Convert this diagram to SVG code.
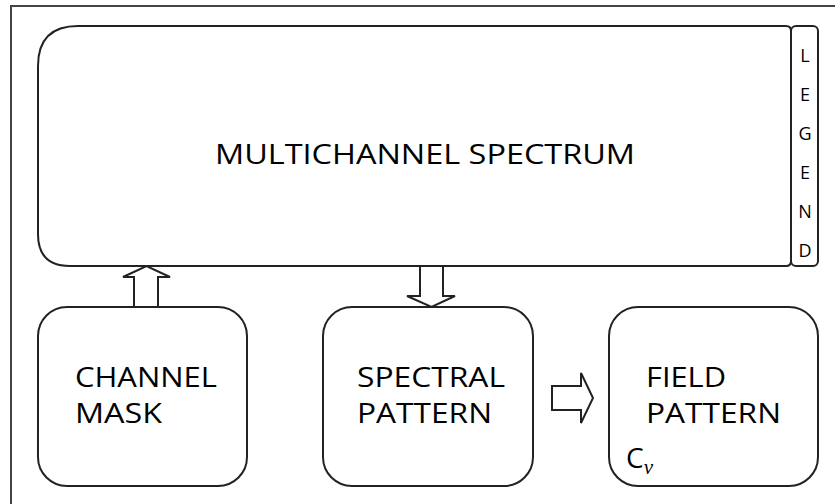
<svg xmlns="http://www.w3.org/2000/svg" width="835" height="504" viewBox="0 0 835 504">
<style>
.box{fill:#fff;stroke:#222;stroke-width:2}
.arr{fill:#fff;stroke:#222;stroke-width:2;stroke-linejoin:miter}
.t{font-family:"Open Sans","Liberation Sans",sans-serif;font-size:28px;fill:#000}
.lg{font-family:"Open Sans","Liberation Sans",sans-serif;font-size:18px;fill:#000;text-anchor:middle}
</style>
<rect x="11" y="6" width="840" height="520" fill="#fff" stroke="#444" stroke-width="2"/>
<g id="spectrum">
<path class="box" d="M78,26 H786 Q791,26 791,31 V261 Q791,266 786,266 H70 Q38,266 38,234 V66 Q38,26 78,26 Z"/>
<text class="t" x="425" y="164" text-anchor="middle" textLength="420" lengthAdjust="spacingAndGlyphs">MULTICHANNEL SPECTRUM</text>
</g>
<g id="legend">
<rect class="box" x="791" y="26" width="27" height="240" rx="5"/>
<text class="lg" x="805" y="62">L</text>
<text class="lg" x="805" y="101">E</text>
<text class="lg" x="805" y="140">G</text>
<text class="lg" x="805" y="179">E</text>
<text class="lg" x="805" y="218">N</text>
<text class="lg" x="805" y="257">D</text>
</g>
<g id="channel-mask">
<rect class="box" x="38" y="307" width="209" height="179" rx="29"/>
<text class="t" x="75" y="387" textLength="142" lengthAdjust="spacingAndGlyphs">CHANNEL</text>
<text class="t" x="75" y="423" textLength="87" lengthAdjust="spacingAndGlyphs">MASK</text>
</g>
<g id="spectral-pattern">
<rect class="box" x="323" y="307" width="210" height="179" rx="29"/>
<text class="t" x="357" y="387" textLength="148" lengthAdjust="spacingAndGlyphs">SPECTRAL</text>
<text class="t" x="357" y="423" textLength="135" lengthAdjust="spacingAndGlyphs">PATTERN</text>
</g>
<g id="field-pattern">
<rect class="box" x="609" y="307" width="209" height="179" rx="29"/>
<text class="t" x="646" y="387" textLength="80" lengthAdjust="spacingAndGlyphs">FIELD</text>
<text class="t" x="646" y="423" textLength="135" lengthAdjust="spacingAndGlyphs">PATTERN</text>
<text class="t" x="626" y="468">C<tspan font-family="'Liberation Serif',serif" font-style="italic" font-size="21" dy="6">ν</tspan></text>
</g>
<g id="connectors">
<polygon class="arr" points="134,307 134,277 123,277 146.5,266 170,277 158,277 158,307"/>
<polygon class="arr" points="420,266 420,296 407,296 431.5,307 455,296 443,296 443,266"/>
<polygon class="arr" points="552,386 581,386 581,373 593,398 581,423 581,410 552,410"/>
</g>
</svg>
